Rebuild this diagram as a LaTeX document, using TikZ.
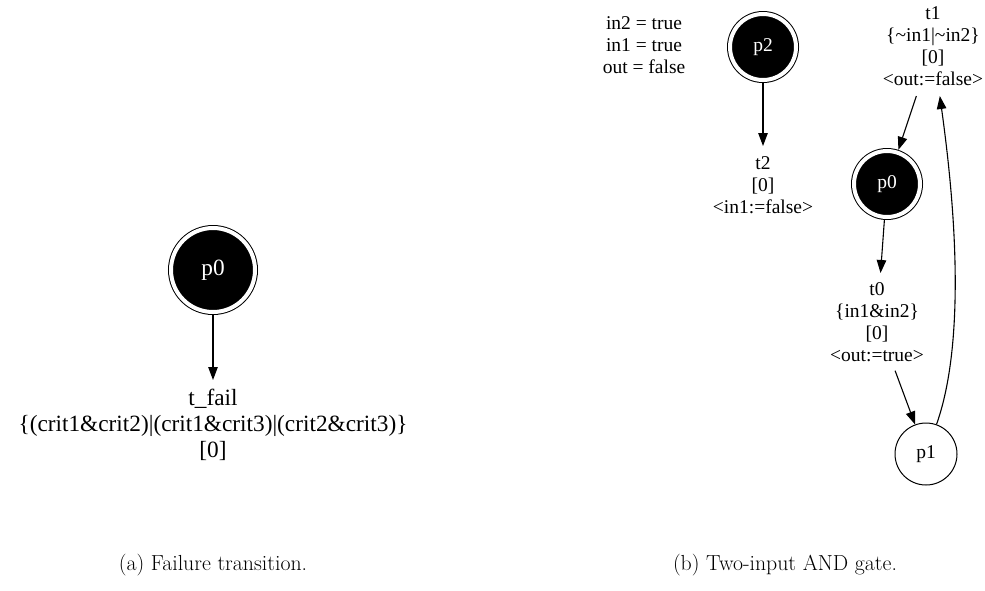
\documentclass[tikz,border=0pt]{standalone}
\usepackage{fontspec}
\newfontfamily\gvfont{Liberation Serif}
\usetikzlibrary{arrows.meta}

\begin{document}
\begin{tikzpicture}[x=1pt,y=-1pt,
  net/.style={line width=1.1pt},
  arr/.style={net, -{Triangle[length=13pt,width=9.5pt]}},
  marked/.style={circle, draw=black, fill=black, line width=1pt, double=white,
    double distance=4pt, inner sep=0pt, outer sep=3pt, text=white},
  place/.style={circle, draw=black, line width=1pt, inner sep=0pt, outer sep=0.5pt},
  smallgv/.style={font=\gvfont\fontsize{19.5}{22}\selectfont},
  biggv/.style={font=\gvfont\fontsize{23.3}{26}\selectfont},
  lbl/.style={align=center, inner xsep=3pt, inner ysep=9pt},
  caption/.style={font=\fontsize{21.8}{26}\selectfont, anchor=base}
]
\path[use as bounding box] (0,0) rectangle (985,590);

% (a) failure transition
\node[marked, biggv, minimum size=84pt] (a-p0) at (213,270) {p0};
\node[lbl, biggv, anchor=north] (a-tfail) at (213,380)
  {t\_fail\\\{(crit1\&crit2)|(crit1\&crit3)|(crit2\&crit3)\}\\{[0]}};
\draw[arr] (a-p0) -- (a-tfail);
\node[caption] (cap-a) at (213,570) {(a) Failure transition.};

% (b) two-input AND gate
\node[smallgv, align=center, inner sep=0pt, anchor=north] (init) at (644,16)
  {in2 = true\\in1 = true\\out = false};
\node[marked, smallgv, minimum size=66pt] (b-p2) at (763,47) {p2};
\node[lbl, smallgv, anchor=north, inner ysep=10pt] (b-t2) at (763,146) {t2\\{[0]}\\<in1:=false>};
\node[lbl, smallgv, anchor=south, inner ysep=10pt] (b-t1) at (933,96)
  {t1\\\{\textasciitilde in1|\textasciitilde in2\}\\{[0]}\\<out:=false>};
\node[marked, smallgv, minimum size=66pt] (b-p0) at (887,184) {p0};
\node[lbl, smallgv, anchor=north] (b-t0) at (877,273)
  {t0\\\{in1\&in2\}\\{[0]}\\<out:=true>};
\node[place, smallgv, minimum size=62pt] (b-p1) at (926,454) {p1};

\draw[arr] (b-p2) -- (b-t2);
\draw[arr] (b-t1) -- (b-p0);
\draw[arr] (b-p0) -- (b-t0);
\draw[arr] (b-t0) -- (b-p1);
\draw[arr] (b-p1) .. controls (970,330) and (950,170) .. (b-t1);

\node[caption] (cap-b) at (785,570) {(b) Two-input AND gate.};
\end{tikzpicture}
\end{document}
